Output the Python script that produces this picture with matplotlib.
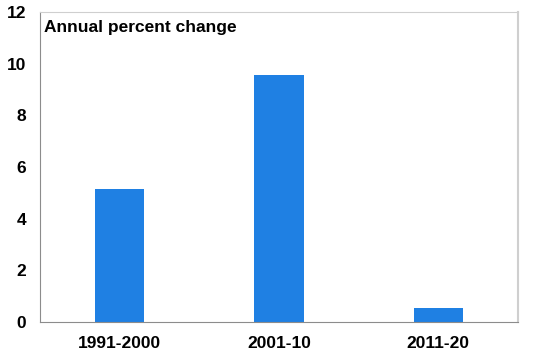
import matplotlib.pyplot as plt
import numpy as np

# data
periods = ['1991-2000', '2001-10', '2011-20']
pct_change = [5.15, 9.55, 0.55]

plt.rcParams['font.family'] = ['Liberation Sans', 'DejaVu Sans']
plt.rcParams['font.weight'] = 'bold'

fig = plt.figure(figsize=(5.48, 3.61), dpi=100)
ax = fig.add_axes([40/548, 1 - 322/361, 478/548, 310/361])

x = np.arange(len(periods))
ax.bar(x, pct_change, width=0.31, color='#1f80e3', zorder=2)

ax.set_xlim(-0.5, 2.5)
ax.set_ylim(0, 12)
ax.set_yticks([0, 2, 4, 6, 8, 10, 12])
ax.set_xticks(x)
ax.set_xticklabels(periods)
ax.tick_params(axis='both', length=0, labelsize=12.5)
ax.tick_params(axis='y', pad=10)
ax.tick_params(axis='x', pad=10)

for s in ['left', 'bottom']:
    ax.spines[s].set_color('#8c8c8c')
for s in ['top', 'right']:
    ax.spines[s].set_color('#cfcfcf')
ax.spines['right'].set_linewidth(1.5)

ax.text(0.008, 0.975, 'Annual percent change', transform=ax.transAxes,
        fontsize=12.5, fontweight='bold', va='top', ha='left')

fig.savefig('out.png', dpi=100)
